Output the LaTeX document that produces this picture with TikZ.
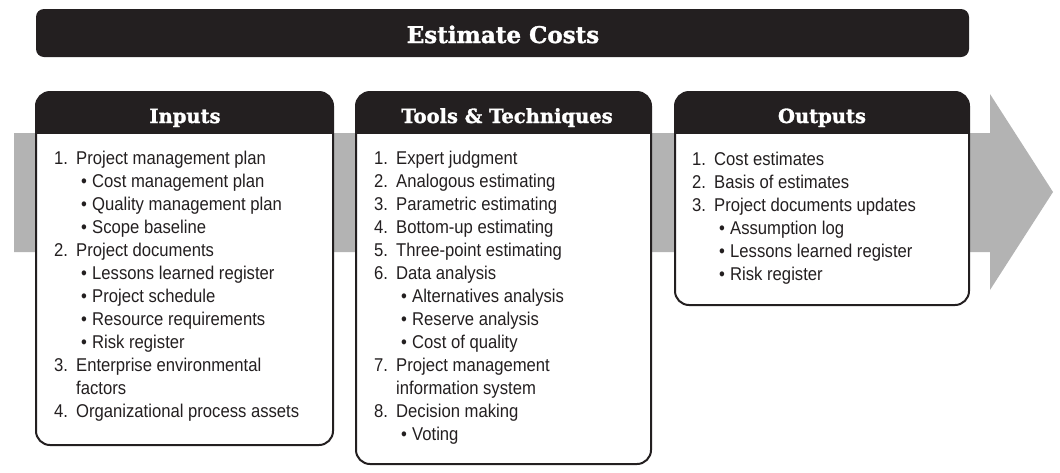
\documentclass[tikz,border=0pt]{standalone}
\usepackage{fontspec}
\setmainfont{Liberation Sans}[FakeStretch=0.9]
\newfontfamily\headfont{DejaVu Serif}[BoldFeatures={FakeBold=1.5}]
\definecolor{dark}{HTML}{231F20}
\definecolor{band}{HTML}{B3B3B3}
\newcommand\pmnum[1]{\makebox[22pt][l]{#1}}
\newcommand\pmbul{\makebox[11pt][l]{\textbullet}}
\newcommand\pmbox[3]{%
  \fill[white, rounded corners=14pt] (#1,92) rectangle (#2,#3);
  \begin{scope}
    \clip (#1,0) rectangle (#2,133);
    \fill[dark, rounded corners=14pt] (#1,92) rectangle (#2,#3);
  \end{scope}
  \draw[boxline] (#1,92) rectangle (#2,#3);
}
\tikzset{
  item/.style={anchor=base west, inner sep=0pt, text=dark, font=\fontsize{18.5}{23}\selectfont},
  head/.style={anchor=base, inner sep=0pt, text=white, font=\headfont\bfseries\fontsize{19.5}{22}\selectfont},
  title/.style={anchor=base, inner sep=0pt, text=white, font=\headfont\bfseries\fontsize{23}{26}\selectfont},
  boxline/.style={draw=dark, line width=2pt, rounded corners=14pt},
}
\begin{document}
\begin{tikzpicture}[x=1pt,y=-1pt]
\useasboundingbox (0,0) rectangle (1060,472);
% big gray arrow
\fill[band] (14,133) -- (990,133) -- (990,94) -- (1053,192) -- (990,290) -- (990,252) -- (14,252) -- cycle;
% title bar
\fill[dark, rounded corners=8pt] (36,9) rectangle (969,57);
\node[title] (ttl) at (503,43) {Estimate Costs};
% boxes
\pmbox{36}{333}{445}
\pmbox{356}{651}{464}
\pmbox{675}{969}{305}
\node[head] (hin) at (185,123) {Inputs};
\node[head] (htt) at (507,123) {Tools \& Techniques};
\node[head] (hout) at (822,123) {Outputs};
% inputs
\foreach \dx/\t [count=\i from 0] in {
  0/{\pmnum{1.}Project management plan},
  27/{\pmbul Cost management plan},
  27/{\pmbul Quality management plan},
  27/{\pmbul Scope baseline},
  0/{\pmnum{2.}Project documents},
  27/{\pmbul Lessons learned register},
  27/{\pmbul Project schedule},
  27/{\pmbul Resource requirements},
  27/{\pmbul Risk register},
  0/{\pmnum{3.}Enterprise environmental},
  22/{factors},
  0/{\pmnum{4.}Organizational process assets}}
  \node[item] (in\i) at ({54+\dx},{164.5+23*\i}) {\t};
% tools
\foreach \dx/\t [count=\i from 0] in {
  0/{\pmnum{1.}Expert judgment},
  0/{\pmnum{2.}Analogous estimating},
  0/{\pmnum{3.}Parametric estimating},
  0/{\pmnum{4.}Bottom-up estimating},
  0/{\pmnum{5.}Three-point estimating},
  0/{\pmnum{6.}Data analysis},
  27/{\pmbul Alternatives analysis},
  27/{\pmbul Reserve analysis},
  27/{\pmbul Cost of quality},
  0/{\pmnum{7.}Project management},
  22/{information system},
  0/{\pmnum{8.}Decision making},
  27/{\pmbul Voting}}
  \node[item] (tt\i) at ({374+\dx},{164.5+23*\i}) {\t};
% outputs
\foreach \dx/\t [count=\i from 0] in {
  0/{\pmnum{1.}Cost estimates},
  0/{\pmnum{2.}Basis of estimates},
  0/{\pmnum{3.}Project documents updates},
  27/{\pmbul Assumption log},
  27/{\pmbul Lessons learned register},
  27/{\pmbul Risk register}}
  \node[item] (out\i) at ({692+\dx},{165+23*\i}) {\t};
\end{tikzpicture}
\end{document}
